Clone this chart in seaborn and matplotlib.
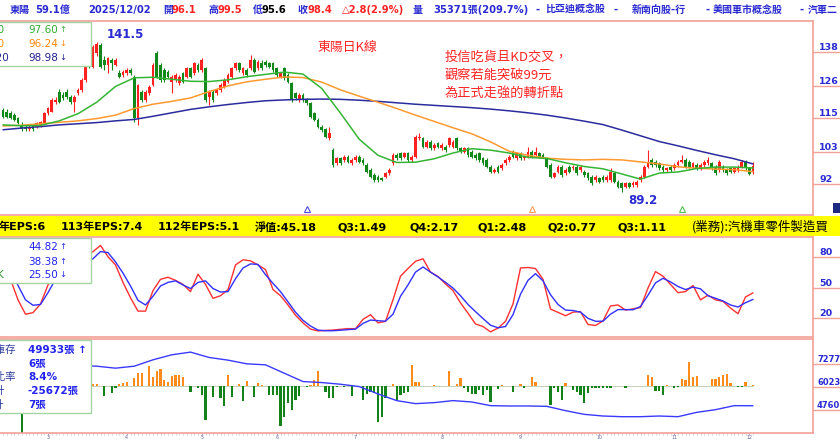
import numpy as np
import matplotlib
matplotlib.use("Agg")
import matplotlib.pyplot as plt
import matplotlib.transforms as mtransforms
from matplotlib.lines import Line2D
from matplotlib.patches import Rectangle
import seaborn as sns

# ---------------- data (東陽, daily, Feb ~ 2025/12/02) ----------------
opens = [117.8, 117.2, 116.6, 116.1, 114.9, 112.6, 112.0, 111.0, 112.6, 112.0,
         112.6, 113.2, 116.6, 117.2, 120.7, 124.2, 123.0, 124.2, 122.4, 120.7,
         123.6, 124.8, 128.2, 134.1, 132.9, 137.5, 140.4, 135.2, 133.5, 135.2,
         133.5, 130.6, 130.0, 130.6, 131.7, 129.4, 115.0, 124.2, 121.3, 123.6,
         126.5, 137.5, 133.5, 131.7, 131.1, 127.7, 128.2, 127.1, 130.6, 129.4,
         132.3, 130.6, 133.5, 131.7, 132.3, 122.4, 124.2, 123.6, 124.8, 125.9,
         127.7, 129.4, 132.3, 134.1, 130.6, 131.7, 132.3, 135.2, 132.3, 134.1,
         134.6, 134.1, 134.1, 132.3, 129.4, 132.3, 130.0, 127.1, 123.6, 121.3,
         123.0, 121.3, 120.1, 116.6, 114.3, 112.0, 111.0, 108.0, 103.8, 99.2,
         100.9, 100.4, 101.5, 99.2, 100.4, 101.5, 100.4, 98.6, 96.9, 95.1,
         94.6, 94.0, 94.6, 95.7, 99.2, 102.1, 102.7, 101.5, 102.7, 100.4,
         101.5, 107.9, 107.9, 105.0, 106.8, 104.4, 106.2, 104.4, 105.0, 105.6,
         105.0, 107.9, 104.4, 103.3, 104.4, 103.3, 102.1, 102.7, 100.9, 100.4,
         98.0, 96.3, 98.0, 97.5, 99.2, 100.4, 103.3, 100.9, 102.7, 100.9,
         101.5, 103.3, 102.1, 102.7, 102.1, 100.9, 98.6, 94.6, 96.3, 98.0,
         95.7, 98.0, 97.5, 98.0, 96.9, 96.3, 95.7, 94.6, 93.4, 94.0,
         94.6, 93.4, 93.4, 95.7, 92.8, 92.2, 91.1, 92.2, 91.7, 91.7,
         93.4, 94.6, 98.0, 100.4, 99.8, 99.2, 98.0, 96.9, 98.0, 97.5,
         98.6, 99.8, 100.4, 99.8, 98.0, 98.6, 97.5, 98.6, 99.2, 99.2,
         98.0, 96.9, 98.0, 96.9, 97.5, 96.3, 96.9, 98.0, 99.8, 97.5,
         96.1]
highs = [118.5, 118.0, 117.5, 116.6, 115.5, 113.5, 112.5, 112.5, 113.0, 113.6,
         114.0, 117.0, 119.0, 121.8, 122.3, 125.0, 124.0, 125.0, 123.0, 123.0,
         125.3, 128.8, 133.5, 135.0, 140.4, 141.5, 141.0, 136.5, 136.3, 136.0,
         135.8, 131.7, 131.7, 132.3, 132.3, 130.0, 127.0, 124.8, 124.8, 126.5,
         134.1, 138.5, 134.1, 132.3, 131.7, 130.0, 130.6, 130.0, 131.1, 132.9,
         132.9, 134.6, 134.1, 136.0, 132.9, 124.8, 124.8, 125.3, 127.1, 128.8,
         130.6, 132.9, 134.6, 134.6, 132.9, 132.3, 137.0, 135.8, 135.2, 135.2,
         135.2, 134.6, 134.6, 132.9, 131.1, 132.9, 130.6, 127.7, 124.2, 123.6,
         123.6, 121.9, 120.7, 117.2, 114.9, 112.6, 111.5, 112.0, 104.5, 101.5,
         101.5, 102.1, 102.1, 100.9, 102.1, 102.1, 100.9, 99.2, 97.5, 95.7,
         95.1, 94.6, 96.3, 97.5, 102.7, 102.7, 103.3, 103.3, 103.3, 102.1,
         109.1, 109.6, 108.5, 107.3, 107.3, 106.2, 106.8, 106.2, 105.6, 108.5,
         107.3, 108.5, 105.0, 105.0, 105.0, 103.9, 102.7, 103.3, 101.5, 100.9,
         98.6, 97.5, 98.6, 99.2, 100.9, 102.1, 103.9, 103.3, 103.3, 102.1,
         105.0, 103.9, 105.0, 103.3, 102.7, 101.5, 99.2, 96.3, 98.6, 98.6,
         97.5, 98.6, 98.6, 98.6, 98.6, 96.9, 96.3, 95.1, 95.1, 94.6,
         95.1, 95.1, 97.5, 96.3, 93.4, 92.8, 92.8, 92.8, 93.0, 93.4,
         95.1, 98.6, 104.0, 100.9, 100.4, 99.8, 98.6, 98.0, 98.6, 99.2,
         100.4, 102.0, 100.9, 100.4, 99.8, 99.2, 99.2, 100.4, 101.5, 99.8,
         98.6, 100.4, 98.6, 97.5, 98.0, 98.0, 98.6, 100.5, 100.4, 98.0,
         99.5]
lows = [115.0, 115.0, 114.5, 113.8, 112.8, 110.5, 110.3, 110.5, 110.5, 111.5,
        112.0, 112.8, 116.0, 117.0, 120.0, 120.2, 121.3, 121.5, 120.0, 117.2,
        123.0, 124.2, 127.7, 132.3, 132.3, 136.5, 132.3, 131.7, 130.6, 131.7,
        133.0, 128.8, 129.4, 130.0, 130.0, 113.5, 112.5, 120.5, 120.7, 123.0,
        126.0, 128.8, 127.7, 127.7, 128.8, 123.6, 127.7, 126.5, 127.1, 128.8,
        128.8, 130.0, 131.1, 131.1, 120.7, 119.5, 120.7, 123.0, 124.2, 125.3,
        127.1, 128.8, 131.7, 131.1, 130.0, 129.4, 131.7, 130.6, 131.7, 131.7,
        132.9, 132.3, 131.1, 129.4, 128.8, 128.2, 127.1, 120.7, 121.3, 120.7,
        120.7, 119.5, 115.0, 113.8, 111.5, 110.2, 108.0, 107.5, 98.0, 98.6,
        98.6, 99.8, 99.2, 98.6, 99.8, 99.2, 98.6, 95.7, 94.0, 92.8,
        92.8, 93.0, 94.0, 95.1, 98.6, 100.4, 100.4, 100.9, 99.8, 99.8,
        100.9, 107.3, 104.4, 104.4, 103.9, 103.9, 104.4, 103.9, 103.3, 105.0,
        104.4, 103.9, 102.7, 102.7, 101.5, 100.9, 100.4, 99.8, 98.6, 97.5,
        95.7, 95.7, 95.7, 96.9, 98.6, 99.8, 100.9, 100.4, 100.4, 100.4,
        100.9, 100.9, 101.5, 100.9, 100.9, 97.5, 94.0, 94.0, 95.7, 94.6,
        95.1, 95.7, 96.9, 95.1, 96.3, 94.6, 93.4, 91.7, 92.8, 92.2,
        92.8, 92.8, 92.8, 92.2, 90.5, 89.2, 90.5, 90.5, 91.1, 91.1,
        92.8, 94.0, 97.5, 98.0, 98.0, 96.9, 96.3, 96.3, 96.3, 96.9,
        98.0, 99.2, 97.5, 97.5, 97.5, 96.9, 96.9, 98.0, 98.6, 96.9,
        95.1, 96.3, 96.3, 95.1, 95.7, 95.7, 96.3, 97.5, 96.9, 95.3,
        95.6]
closes = [115.5, 115.5, 114.9, 114.3, 113.2, 111.0, 111.0, 112.0, 111.0, 113.2,
          113.5, 116.6, 118.4, 121.3, 121.3, 120.7, 121.9, 122.4, 120.7, 122.4,
          124.8, 128.2, 132.9, 132.9, 139.9, 140.8, 132.9, 133.5, 135.8, 134.1,
          135.2, 129.4, 131.1, 131.7, 130.6, 115.0, 126.5, 121.3, 124.2, 125.9,
          133.5, 129.4, 128.2, 128.2, 129.4, 129.4, 130.0, 129.4, 127.7, 132.3,
          129.4, 134.1, 131.7, 135.2, 121.3, 124.2, 121.3, 124.8, 126.5, 128.2,
          130.0, 132.3, 134.1, 131.7, 132.3, 130.0, 135.2, 131.1, 134.6, 132.3,
          133.5, 132.9, 131.7, 130.0, 130.6, 128.8, 127.7, 121.3, 121.9, 123.0,
          121.3, 120.1, 115.5, 114.3, 112.0, 110.8, 108.5, 109.6, 98.6, 100.9,
          99.2, 101.5, 99.8, 100.4, 101.5, 99.8, 99.2, 96.3, 94.6, 93.4,
          93.4, 93.4, 95.7, 96.9, 102.1, 100.9, 100.9, 102.7, 100.4, 101.5,
          108.5, 108.5, 105.0, 106.8, 104.4, 105.6, 105.0, 105.6, 103.9, 107.9,
          106.8, 104.4, 103.3, 104.4, 102.1, 101.5, 100.9, 100.4, 99.2, 98.0,
          96.3, 96.9, 96.3, 98.6, 100.4, 101.5, 101.5, 102.7, 100.9, 101.5,
          103.3, 101.5, 103.3, 101.5, 101.5, 98.0, 94.6, 95.7, 98.0, 95.1,
          96.9, 96.3, 98.0, 95.7, 98.0, 95.1, 94.0, 92.2, 94.6, 92.8,
          93.4, 94.6, 96.3, 92.8, 91.1, 90.5, 92.2, 91.1, 92.5, 92.8,
          94.6, 98.0, 99.8, 98.6, 98.6, 97.5, 96.9, 97.5, 96.9, 98.6,
          99.8, 100.4, 98.0, 98.0, 99.2, 97.5, 98.6, 99.8, 100.4, 97.5,
          95.7, 99.8, 96.9, 95.7, 96.3, 97.5, 97.8, 99.8, 97.5, 95.6,
          98.4]

# moving averages, read every 5 trading days
ma20 = [112.6, 112.3, 112.4, 114.0, 116.5, 120.5, 126.0, 129.0, 129.2, 128.5,
        127.8, 127.7, 128.3, 129.4, 130.2, 131.0, 130.3, 125.3, 116.7, 107.6,
        102.0, 99.5, 99.6, 100.8, 102.8, 104.3, 103.8, 102.8, 101.3, 100.9,
        99.4, 98.1, 97.3, 95.5, 93.7, 95.8, 96.2, 97.4, 97.9, 97.9,
        97.6]
ma60 = [112.2, 112.5, 113.0, 113.5, 114.0, 114.8, 116.0, 118.3, 119.8, 120.8,
        122.0, 124.2, 126.2, 127.6, 128.5, 129.3, 129.1, 127.5, 124.8, 122.6,
        120.5, 118.3, 116.0, 113.8, 111.6, 109.5, 106.7, 103.4, 102.0, 101.0,
        100.6, 100.4, 100.6, 100.4, 99.7, 99.0, 98.0, 97.5, 97.2, 97.0,
        96.3]
ma120 = [110.9, 111.5, 112.0, 112.6, 113.0, 113.4, 114.0, 114.5, 115.6, 116.8,
         118.0, 118.9, 119.7, 120.4, 121.0, 121.3, 121.5, 121.6, 121.5, 121.2,
         120.8, 120.3, 119.8, 119.4, 119.0, 118.6, 118.1, 117.5, 116.8, 116.0,
         115.0, 113.9, 112.7, 110.8, 108.8, 106.8, 105.3, 103.7, 102.2, 100.8,
         99.0]

# KD, read every 2 trading days
k_line = [66, 58, 38, 24, 25.5, 34, 52.5, 63, 70, 74,
          78, 81.5, 85, 91, 80, 72, 55, 40, 27, 27,
          47, 58, 60, 57, 53, 46, 63, 53, 39.5, 42,
          48, 72, 77, 76, 72, 67.5, 48, 42, 33, 23,
          15.5, 9.5, 7.7, 8.2, 8.6, 9.3, 10, 9.8, 19, 23.5,
          15.6, 17, 38, 61, 68.5, 75.5, 78, 65, 60.7, 53.5,
          47, 35, 25, 14.5, 12, 6.8, 10.5, 17, 34, 69,
          69.5, 68.5, 58, 29, 25.8, 22.5, 26, 26.5, 14, 13,
          17.5, 32, 33, 28, 29.2, 30.5, 49.5, 65.5, 61, 53,
          45, 46, 52, 38, 42.5, 38, 36.5, 30, 24.5, 40.8,
          44.8]
d_line = [72, 68, 52, 38, 32.7, 33.5, 45, 58, 63, 67,
          71, 75, 78, 85, 84, 75, 64, 51.5, 37.5, 33,
          41.5, 51.5, 55, 56.5, 52.5, 49, 55, 56.5, 49, 45.6,
          46, 58.5, 69, 73, 72.5, 62.5, 54, 46, 36, 26,
          18, 12.5, 8.5, 7.9, 7.9, 8.4, 9, 9.5, 15, 18.3,
          17.7, 17.2, 24, 41.5, 52.5, 65, 70, 65, 60.3, 55,
          49.5, 42, 33.5, 26.5, 19.8, 13.3, 10.8, 12, 23.5, 43.5,
          57, 63.5, 56.5, 43, 33.5, 28, 27.6, 26, 20, 17.1,
          17.2, 24, 28.5, 28.5, 28.3, 31.5, 42.5, 54.5, 59, 55.5,
          51, 48, 50.4, 48.7, 42, 39.5, 36.9, 33, 31, 35.2,
          38.4]

# 投信買賣超 (張), one per day
trust_net = [0, 0, 0, 0, 0, -4700, 0, 0, 0, 0,
             0, 0, 0, 0, 0, 0, 0, 0, 0, 0,
             0, 0, 0, 0, 200, 200, 0, -1000, 0, -700,
             -200, 200, 300, 400, 0, 800, 1300, 1300, 0, 2000,
             900, 1500, 1700, 600, 400, 1000, 1100, 1100, 900, 0,
             -600, 0, -200, -900, -3400, 0, -1100, 0, -1200, -2000,
             1100, -1100, 0, 200, -1500, 500, 0, -1100, 300, 100,
             0, -900, -900, -900, -4000, -3100, -1700, -2400, -1400, -1000,
             0, -100, 100, 600, 1500, 0, -600, -1200, -1200, -100,
             0, -100, 100, -1000, 0, 0, -1400, -800, -600, -700,
             -3600, -3100, -1200, 0, 200, -1400, -900, -700, -600, 2100,
             400, 400, 0, 0, 0, 100, 0, 0, 0, 1500,
             0, 200, 800, -200, -600, -800, -800, -400, -900, -400,
             -1600, 0, -300, 100, 0, 0, -600, 0, 200, -200,
             0, 900, 400, 0, 0, 0, -1900, -200, -600, -1400,
             300, 0, -400, -600, -900, -1700, -700, -200, -200, -200,
             -200, -200, -200, 0, 0, 0, -200, 0, 0, 0,
             0, 0, 1100, 900, -500, -500, -900, 100, 0, -200,
             -100, 700, 600, 2400, 900, 1000, 0, 0, 0, 700,
             700, 900, 1100, 1200, 300, 0, -100, -100, 400, 0,
             100]

# 投信庫存 (張), read every 5 trading days
trust_hold = [71900, 71900, 71900, 71900, 71900, 71570, 70480, 71570, 75050, 77800,
              79260, 76330, 74870, 72860, 72310, 67730, 63160, 62610, 61690, 60410,
              56390, 52730, 51080, 51630, 52730, 51990, 49980, 49800, 49800, 49610,
              47240, 45220, 44310, 43940, 43940, 44310, 43940, 46320, 47780, 49980,
              49933]

month_days = [12, 33, 53, 73, 94, 117, 138, 159, 179, 199]
month_labels = ['3', '4', '5', '6', '7', '8', '9', '10', '11', '12']
price_ticks = [138, 126, 115, 103, 92]
kd_ticks = [80, 50, 20]
hold_ticks = [72770, 60230, 47600]
hold_labels = ['7277', '6023', '4760']   # right column only shows the first 4 digits
signal_days = [81, 141, 181]

# ---------------- style ----------------
sns.set_style("white")
plt.rcParams['font.family'] = ['DejaVu Sans', 'Noto Sans CJK TC']
CJK = ['Noto Sans CJK TC', 'DejaVu Sans']

PINK = '#f2a196'
BLUE_T = '#2a2ad2'
RED_T = '#ff2424'
C_UP = '#ff2020'
C_DN = '#12881a'
C_MA20 = '#35b535'
C_MA60 = '#ff9a30'
C_MA120 = '#2b2b9e'
BOXEDGE = '#a3d6a3'

W, H = 840, 440
fig = plt.figure(figsize=(W / 100, H / 100), dpi=100)
fig.patch.set_facecolor('white')


def px_ax(x0, y0, x1, y1):
    return fig.add_axes([x0 / W, 1 - y1 / H, (x1 - x0) / W, (y1 - y0) / H])


def T(px, py, s, color=BLUE_T, size=7.5, weight='bold', ha='left', va='center', **kw):
    return fig.text(px / W, 1 - py / H, s, color=color, fontsize=size,
                    fontweight=weight, ha=ha, va=va, **kw)


def box(x0, y0, x1, y1):
    fig.add_artist(Rectangle((x0 / W, 1 - y1 / H), (x1 - x0) / W, (y1 - y0) / H,
                             transform=fig.transFigure, facecolor='white',
                             edgecolor=BOXEDGE, lw=1.0, zorder=5))


def right_scale(ax, ticks, labels, x=819, size=6.8):
    tr = mtransforms.blended_transform_factory(fig.transFigure, ax.transData)
    for v, lab in zip(ticks, labels):
        fig.add_artist(Line2D([813 / W, 1.0], [v, v], transform=tr, color=PINK, lw=1.0))
        ax.text(x / W, v, lab, transform=tr, ha='left', va='bottom',
                color=BLUE_T, fontsize=size, fontweight='bold')


ax_p = px_ax(0, 21, 813, 215)
ax_k = px_ax(0, 237, 813, 337)
ax_v = px_ax(0, 339, 813, 433)
for ax in (ax_p, ax_k, ax_v):
    ax.set_facecolor('white')
    ax.spines['left'].set_visible(False)
    for s in ('top', 'right', 'bottom'):
        ax.spines[s].set_color(PINK)
        ax.spines[s].set_linewidth(1.2)
    ax.set_yticks([])

days = np.arange(len(closes))
ma_days = days[::5]
kd_days = days[::2]

# ---------------- price panel ----------------
o = np.array(opens); c = np.array(closes)
up = c >= o
cols = np.where(up, C_UP, C_DN)
ax_p.vlines(days, lows, highs, colors=cols, lw=0.8, zorder=2)
ax_p.bar(days, np.maximum(np.abs(c - o), 0.25), bottom=np.minimum(o, c),
         width=0.72, color=cols, lw=0, zorder=3)
sns.lineplot(x=ma_days, y=ma120, ax=ax_p, color=C_MA120, lw=1.1, zorder=4)
sns.lineplot(x=ma_days, y=ma60, ax=ax_p, color=C_MA60, lw=1.1, zorder=4)
sns.lineplot(x=ma_days, y=ma20, ax=ax_p, color=C_MA20, lw=1.1, zorder=4)
trp = mtransforms.blended_transform_factory(ax_p.transData, ax_p.transAxes)
for d, col in zip(signal_days, ['#4a4ae0', '#ff9a60', '#55bb55']):
    ax_p.plot([d], [0.03], marker='^', ms=4.5, mfc='white', mec=col, mew=0.8,
              transform=trp, clip_on=False, zorder=5)
ax_p.set_ylim(81.2, 148.8)
right_scale(ax_p, price_ticks, [str(v) for v in price_ticks])

# ---------------- KD panel ----------------
sns.lineplot(x=kd_days, y=k_line, ax=ax_k, color='#ff3030', lw=1.0)
sns.lineplot(x=kd_days, y=d_line, ax=ax_k, color='#3030ff', lw=1.0)
ax_k.set_ylim(1.8, 99.2)
right_scale(ax_k, kd_ticks, [str(v) for v in kd_ticks])

# ---------------- 投信 panel ----------------
net = np.array(trust_net)
ax_v.hlines(0, days[0], days[-1], color='#b9c9a8', lw=0.6, zorder=1)
ax_v.bar(days, net, width=0.55, color=np.where(net > 0, '#ff8c1a', '#13821a'), lw=0, zorder=2)
ax_v.set_ylim(-4700, 4700)
ax_h = ax_v.twinx()
sns.lineplot(x=ma_days, y=trust_hold, ax=ax_h, color='#3a3aff', lw=1.0)
ax_h.set_ylim(35019, 86437)
ax_h.set_yticks([])
for s in ax_h.spines.values():
    s.set_visible(False)
right_scale(ax_h, hold_ticks, hold_labels, x=817, size=6.0)

for ax in (ax_p, ax_k, ax_v, ax_h):
    ax.set_xlim(-0.8, 216)
    ax.set_xlabel('')
    ax.set_ylabel('')
ax_p.set_xticks([]); ax_k.set_xticks([])
ax_v.set_xticks(month_days)
ax_v.set_xticklabels(month_labels, fontsize=3.4, color='#6a6a9a')
ax_v.set_xticks(days, minor=True)
ax_v.tick_params(axis='x', which='both', bottom=True, direction='out', pad=0)
ax_v.tick_params(axis='x', which='major', length=1.4, width=0.6, color='#9a9aba')
ax_v.tick_params(axis='x', which='minor', length=1.2, width=0.5, color='#c2c2d6')

# ---------------- yellow info strip ----------------
fig.add_artist(Rectangle((0, 1 - 235.5 / H), 1, 19.5 / H, transform=fig.transFigure,
                         facecolor='#ffff00', edgecolor='none', zorder=1))
for x, s in [(-1, '年EPS:6'), (61, '113年EPS:7.4'), (158, '112年EPS:5.1'),
             (255, '淨值:45.18'), (338, 'Q3:1.49'), (410, 'Q4:2.17'),
             (477, 'Q1:2.48'), (548, 'Q2:0.77'), (617, 'Q3:1.11')]:
    T(x, 227, s, color='black', size=8)
T(692, 227, '(業務):汽機車零件製造買', color='black', size=9, weight='normal', family=CJK)

# ---------------- title bar ----------------
for x, s, col in [(10, '東陽', BLUE_T), (35, '59.1億', BLUE_T), (88, '2025/12/02', BLUE_T),
                  (163, '開', BLUE_T), (172, '96.1', RED_T), (208, '高', BLUE_T),
                  (217, '99.5', RED_T), (253, '低', BLUE_T), (262, '95.6', 'black'),
                  (298, '收', BLUE_T), (307, '98.4', RED_T), (342, '△2.8(2.9%)', RED_T),
                  (413, '量', BLUE_T), (433, '35371張(209.7%)', BLUE_T),
                  (535, '-', BLUE_T), (545, '比亞迪概念股', BLUE_T), (614, '-', BLUE_T),
                  (632, '新南向股-行', BLUE_T), (706, '-', BLUE_T),
                  (713, '美國車市概念股', BLUE_T), (800, '-', BLUE_T), (808, '汽車二', BLUE_T)]:
    T(x, 10, s, color=col, size=7.2)

# ---------------- annotations ----------------
T(107, 34, '141.5', size=8.5)
T(628, 201, '89.2', size=8.5)
T(317, 47, '東陽日K線', color=RED_T, size=9.3, weight='normal', family=CJK)
for y, s in [(57.5, '投信吃貨且KD交叉，'), (75.5, '觀察若能突破99元'), (93, '為正式走強的轉折點')]:
    T(445, y, s, color=RED_T, size=9.5, weight='normal', family=CJK)
fig.add_artist(Rectangle((833 / W, 1 - 213 / H), 8 / W, 10 / H, transform=fig.transFigure,
                         facecolor='#1c2a80', edgecolor='none', zorder=5))

# ---------------- legend boxes ----------------
box(-5, 22, 91, 66)
for y, lab, lx, val, arr, col in [(30, 'MA20', 4.5, '97.60', '↑', '#2fae2f'),
                                  (44, 'MA60', 4.5, '96.24', '↓', '#ff8a10'),
                                  (58, 'MA120', 9, '98.98', '↓', '#20208e')]:
    T(lx, y, lab, color=col, size=7.5, weight='normal', ha='right', zorder=6)
    T(28, y, val, color=col, size=7.5, weight='normal', zorder=6)
    T(59, y, arr, color=col, size=6, weight='normal', zorder=6)

box(-5, 238, 91, 283)
for y, val, arr in [(246.5, '44.82', '↑'), (261.5, '38.38', '↑'), (274.5, '25.50', '↓')]:
    T(28, y, val, color='#2323ee', size=7.5, weight='normal', zorder=6)
    T(59, y, arr, color='#2323ee', size=6, weight='normal', zorder=6)
T(4, 274.5, 'K', color='#2a9a2a', size=7.5, weight='normal', ha='right', zorder=6)

box(-5, 340, 91, 413)
for y, lab, lx, val in [(350, '投信庫存', 16, '49933張 ↑'), (363.5, '', 16, '6張'),
                        (377, '持股比率', 16, '8.4%'), (390.5, '區間合計', 4.5, '-25672張'),
                        (405, '今日合計', 4.5, '7張')]:
    if lab:
        T(lx, y, lab, color='#2b3a9e', size=7.5, weight='normal', ha='right', zorder=6, family=CJK)
    T(28, y, val, color='#2323ee', size=7.5, weight='bold', zorder=6)

fig.savefig('out.png', dpi=100)
